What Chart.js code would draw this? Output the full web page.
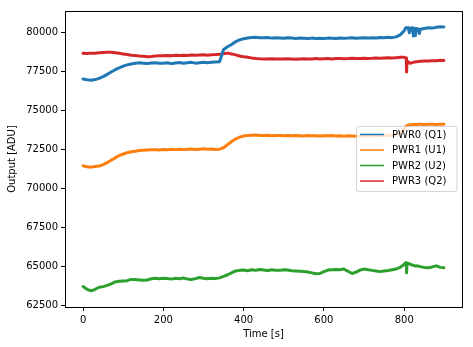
<!DOCTYPE html>
<html><head><meta charset="utf-8">
<script src="https://cdn.jsdelivr.net/npm/chart.js@4.4.1/dist/chart.umd.min.js"></script>
<style>html,body{margin:0;padding:0;background:#fff}</style>
</head><body>
<canvas id="c" width="473" height="347" style="display:block;width:473px;height:347px"></canvas>
<script>
const times = [0,10,20,30,40,50,60,70,80,90,
  100,110,120,130,140,150,160,170,180,190,
  200,210,220,230,240,250,260,270,280,290,
  300,310,320,330,340,350,360,370,380,390,
  400,410,420,430,440,450,460,470,480,490,
  500,510,520,530,540,550,560,570,580,590,
  600,610,620,630,640,650,660,670,680,690,
  700,710,720,730,740,750,760,770,780,790,
  800,803,805,806,807,810,813,815,820,823,825,828,830,835,838,840,
  850,860,870,880,890,899];

const pwr0 = [77000,76950,76920,76960,77040,77150,77290,77440,77590,77710,
  77820,77900,77950,78000,78030,78010,77990,78020,78040,78000,
  78010,78040,77980,78020,78050,78000,78030,78060,78010,78040,
  78060,78030,78070,78090,78100,78880,79060,79200,79380,79500,
  79570,79620,79650,79660,79640,79630,79650,79610,79640,79620,
  79600,79630,79610,79590,79620,79600,79580,79610,79590,79600,
  79580,79610,79600,79590,79620,79600,79610,79630,79600,79620,
  79630,79610,79640,79620,79650,79630,79660,79640,79690,79820,
  80080,80230,80280,80270,80260,80280,79950,80250,80270,79750,80240,79780,80220,80200,79900,80180,
  80230,80270,80250,80300,80330,80320];

const pwr1 = [71450,71380,71360,71400,71430,71520,71650,71800,71950,72100,
  72200,72280,72340,72380,72420,72440,72460,72470,72480,72460,
  72490,72470,72500,72480,72510,72490,72500,72520,72490,72510,
  72530,72500,72520,72490,72510,72600,72800,73000,73160,73280,
  73350,73380,73400,73410,73390,73380,73400,73370,73390,73380,
  73370,73390,73360,73380,73370,73350,73380,73360,73370,73350,
  73370,73360,73380,73350,73370,73340,73360,73350,73330,73350,
  73360,73380,73370,73390,73380,73400,73390,73410,73420,73520,
  73780,73900,73980,74000,74010,74050,74060,74070,74080,74090,74080,74090,74100,74090,74100,74100,
  74090,74110,74100,74090,74110,74100];

const pwr2 = [63720,63550,63450,63550,63680,63720,63800,63900,64020,64060,
  64080,64100,64180,64170,64150,64130,64140,64220,64250,64230,
  64260,64240,64200,64250,64230,64270,64200,64180,64230,64300,
  64250,64230,64260,64240,64280,64380,64480,64600,64720,64760,
  64780,64740,64800,64760,64820,64780,64750,64800,64770,64760,
  64800,64780,64740,64720,64700,64680,64650,64600,64540,64560,
  64680,64780,64800,64820,64800,64840,64700,64560,64650,64780,
  64840,64800,64760,64720,64680,64720,64750,64800,64850,64950,
  65150,65230,65250,64600,65220,65200,65180,65150,65100,65080,65060,65040,65050,65030,65020,65000,
  64950,64920,64980,65050,64950,64920];

const pwr3 = [78640,78620,78650,78640,78670,78690,78710,78700,78680,78640,
  78600,78560,78520,78500,78470,78450,78420,78430,78460,78480,
  78490,78500,78480,78510,78500,78520,78500,78530,78510,78530,
  78540,78520,78550,78560,78580,78610,78650,78600,78540,78470,
  78420,78380,78340,78310,78290,78280,78270,78290,78270,78280,
  78270,78290,78280,78260,78280,78290,78270,78280,78300,78280,
  78290,78300,78280,78300,78310,78290,78300,78320,78300,78310,
  78330,78310,78320,78340,78330,78340,78350,78340,78360,78380,
  78380,78360,78340,77450,78150,78080,78020,78000,78040,78060,78080,78090,78100,78110,78120,78130,
  78150,78140,78160,78170,78200,78180];

const seriesLabels = ['PWR0 (Q1)','PWR1 (U1)','PWR2 (U2)','PWR3 (Q2)'];
const seriesColors = ['#1f77b4','#ff7f0e','#2ca02c','#d62728'];
const seriesValues = [pwr0, pwr1, pwr2, pwr3];
const xTickValues = [0,200,400,600,800];
const yTickValues = [62500,65000,67500,70000,72500,75000,77500,80000];
const xTitle = 'Time [s]';
const yTitle = 'Output [ADU]';

const FONT = {family:'DejaVu Sans', size:10};

const framePlugin = {
  id:'frame',
  afterDatasetsDraw(chart){
    const {ctx, chartArea:a} = chart;
    ctx.save();
    ctx.strokeStyle='#000'; ctx.lineWidth=1;
    ctx.strokeRect(Math.round(a.left)+0.5, Math.round(a.top)+0.5,
      Math.round(a.right)-Math.round(a.left), Math.round(a.bottom)-Math.round(a.top));
    ctx.restore();
  }
};

const legendPlugin = {
  id:'boxLegend',
  afterDraw(chart){
    const ctx = chart.ctx;
    const x0=356.5, y0=126.5, w=100.5, h=65, r=2.5;
    ctx.save();
    ctx.beginPath();
    ctx.moveTo(x0+r,y0); ctx.lineTo(x0+w-r,y0); ctx.arcTo(x0+w,y0,x0+w,y0+r,r);
    ctx.lineTo(x0+w,y0+h-r); ctx.arcTo(x0+w,y0+h,x0+w-r,y0+h,r);
    ctx.lineTo(x0+r,y0+h); ctx.arcTo(x0,y0+h,x0,y0+h-r,r);
    ctx.lineTo(x0,y0+r); ctx.arcTo(x0,y0,x0+r,y0,r); ctx.closePath();
    ctx.fillStyle='rgba(255,255,255,0.8)'; ctx.fill();
    ctx.strokeStyle='rgba(204,204,204,0.8)'; ctx.lineWidth=1; ctx.stroke();
    ctx.font = '10px "DejaVu Sans"';
    ctx.textBaseline='middle'; ctx.textAlign='left';
    chart.data.datasets.forEach((ds,i)=>{
      const y = 134.5 + i*15.5;
      ctx.strokeStyle = ds.borderColor; ctx.lineWidth=1.5;
      ctx.beginPath(); ctx.moveTo(360,y); ctx.lineTo(384,y); ctx.stroke();
      ctx.fillStyle='#000'; ctx.fillText(ds.label, 392, y+0.5);
    });
    ctx.restore();
  }
};

new Chart(document.getElementById('c'), {
  type:'line',
  data:{
    datasets: seriesValues.map((vals,i)=>({
      label: seriesLabels[i],
      data: vals.map((v,j)=>({x:times[j], y:v})),
      borderColor: seriesColors[i],
      backgroundColor: seriesColors[i],
      borderWidth: 3,
      borderJoinStyle: 'round',
      borderCapStyle: 'round',
      pointRadius: 0,
      tension: 0,
      fill:false
    }))
  },
  options:{
    responsive:false,
    devicePixelRatio:1,
    animation:false,
    events:[],
    layout:{padding:{left:0,right:11,top:11,bottom:0}},
    plugins:{legend:{display:false}, tooltip:{enabled:false}},
    scales:{
      x:{
        type:'linear', min:-45, max:944,
        afterBuildTicks(s){ s.ticks = xTickValues.map(v=>({value:v})); },
        afterFit(s){ s.height = 40; },
        ticks:{font:FONT, color:'#000', padding:3, maxRotation:0, autoSkip:false},
        grid:{display:true, drawOnChartArea:false, drawTicks:true, tickLength:4, tickColor:'#000', tickWidth:1},
        border:{display:false},
        title:{display:true, text:xTitle, font:FONT, color:'#000', padding:{top:7,bottom:7}}
      },
      y:{
        type:'linear', min:62417, max:81344,
        afterBuildTicks(s){ s.ticks = yTickValues.map(v=>({value:v})); },
        afterFit(s){ s.width = 65; },
        ticks:{font:FONT, color:'#000', padding:3, autoSkip:false, callback:(v)=>String(v)},
        grid:{display:true, drawOnChartArea:false, drawTicks:true, tickLength:4, tickColor:'#000', tickWidth:1},
        border:{display:false},
        title:{display:true, text:yTitle, font:FONT, color:'#000', padding:{top:6,bottom:6}}
      }
    }
  },
  plugins:[framePlugin, legendPlugin]
});
</script>
</body></html>
